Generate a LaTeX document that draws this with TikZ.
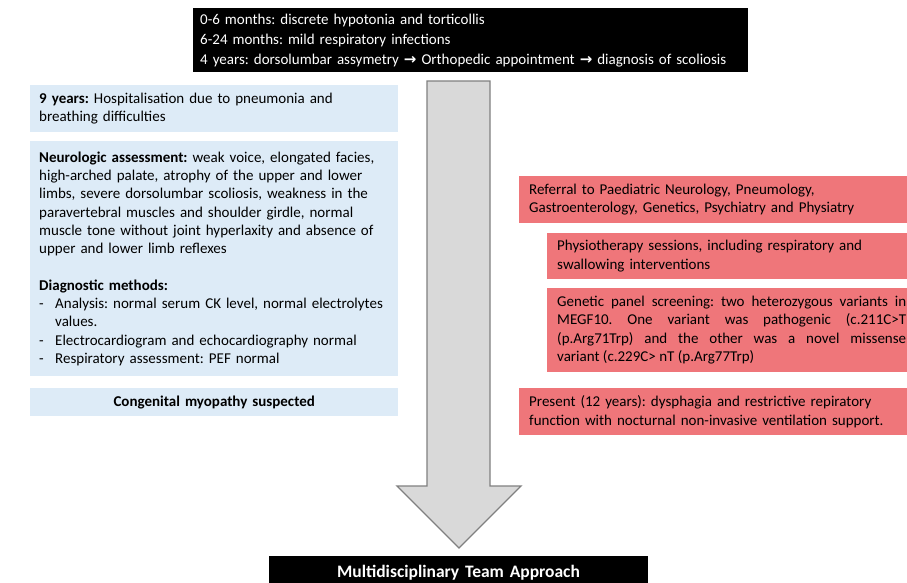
\documentclass[tikz,border=0pt]{standalone}
\usepackage{fontspec}
\setmainfont{Carlito}
\newfontfamily\arrowfont{DejaVu Sans}
\usepackage{tikz}
\usetikzlibrary{positioning,calc}
\definecolor{boxblue}{RGB}{221,235,247}
\definecolor{boxred}{RGB}{239,118,122}
\definecolor{arrowfill}{RGB}{217,217,217}
\definecolor{arrowedge}{RGB}{128,128,128}
\newcommand{\tarr}{{\arrowfont\bfseries\fontsize{15}{15}\selectfont →}}
\newcommand{\dashitem}{\makebox[16pt][l]{-}}
\frenchspacing

\tikzset{
  txt/.style={font=\fontsize{15}{18.3}\selectfont, inner xsep=9pt, inner ysep=0pt, anchor=north west, align=left},
  blackbox/.style={txt, fill=black, text=white},
  bluebox/.style={txt, fill=boxblue, text width=350pt},
  redbox/.style={txt, fill=boxred, inner xsep=10pt, text width=380pt},
}

\begin{document}
\begin{tikzpicture}[x=1pt,y=-1pt,line join=miter]
  \useasboundingbox (0,0) rectangle (907,582);
  % history on top
  \node[blackbox, inner xsep=7pt, text width=541pt, minimum height=64pt,
        font=\fontsize{15}{20}\selectfont] (hist) at (193,8)
    {0-6 months: discrete hypotonia and torticollis\\
     6-24 months: mild respiratory infections\\
     4 years: dorsolumbar assymetry \tarr{} Orthopedic appointment \tarr{} diagnosis of scoliosis};
  % left column
  \node[bluebox, minimum height=47pt] (hosp) at (30,85)
    {\textbf{9 years:} Hospitalisation due to pneumonia and\\ breathing difficulties};
  \node[bluebox, minimum height=235pt] (neuro) at (30,141)
    {\textbf{Neurologic assessment:} weak voice, elongated facies,\\
     high-arched palate, atrophy of the upper and lower\\
     limbs, severe dorsolumbar scoliosis, weakness in the\\
     paravertebral muscles and shoulder girdle, normal\\
     muscle tone without joint hyperlaxity and absence of\\
     upper and lower limb reflexes\\[18.3pt]
     \textbf{Diagnostic methods:}\\
     \dashitem Analysis: normal serum CK level, normal electrolytes\\
     \hspace*{16pt}values.\\
     \dashitem Electrocardiogram and echocardiography normal\\
     \dashitem Respiratory assessment: PEF normal};
  \node[bluebox, minimum height=28pt, align=center] (myo) at (30,388)
    {\textbf{Congenital myopathy suspected}};
  % right column
  \node[redbox, minimum height=47pt] (referral) at (519,176)
    {Referral to Paediatric Neurology, Pneumology,\\
     Gastroenterology, Genetics, Psychiatry and Physiatry};
  \node[redbox, minimum height=46pt] (physio) at (547,233)
    {Physiotherapy sessions, including respiratory and\\ swallowing interventions};
  \node[redbox, minimum height=84pt, text width=349pt, align=justify] (genetic) at (547,288)
    {Genetic panel screening: two heterozygous variants in\linebreak
     MEGF10. One variant was pathogenic (c.211C>T\linebreak
     (p.Arg71Trp) and the other was a novel missense\linebreak
     variant (c.229C> nT (p.Arg77Trp)};
  \node[redbox, minimum height=47pt] (present) at (519,388)
    {Present (12 years): dysphagia and restrictive repiratory\\
     function with nocturnal non-invasive ventilation support.};
  % bottom
  \node[blackbox, anchor=north, align=center, text width=361pt, minimum height=34pt,
        font=\fontsize{17.5}{18}\selectfont\bfseries] (mdt) at (458.5,556)
    {Multidisciplinary Team Approach};
  % big arrow
  \draw[fill=arrowfill, draw=arrowedge, line width=1.3pt]
    (427,81) -- (490,81) -- (490,486) -- (521,486) -- (459,548)
    -- (397,486) -- (427,486) -- cycle;
\end{tikzpicture}
\end{document}
